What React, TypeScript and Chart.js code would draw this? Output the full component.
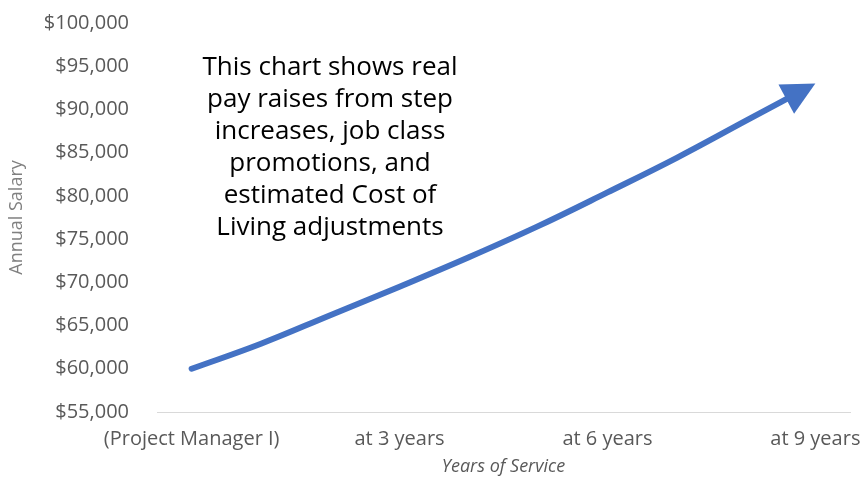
import React, { useEffect, useRef } from 'react';
import { Chart, registerables } from 'chart.js';

Chart.register(...registerables);

// Categories: one per year of service (0..9); only every third year is labelled
const categories = [
  '(Project Manager I)', '', '', 'at 3 years', '', '', 'at 6 years', '', '', 'at 9 years',
];
// Annual salary
const salary = [60000, 62900, 66200, 69500, 72900, 76500, 80400, 84400, 88700, 93000];
// Y axis tick range
const yMin = 55000;
const yMax = 100000;
const yStep = 5000;
// Annotation text
const noteLines = [
  'This chart shows real',
  'pay raises from step',
  'increases, job class',
  'promotions, and',
  'estimated Cost of',
  'Living adjustments',
];

const LINE_COLOR = '#4472C4';

function arrowGeom(chart: any) {
  const meta = chart.getDatasetMeta(0);
  const pts = meta.data;
  if (!pts || pts.length < 2) return null;
  const last = pts[pts.length - 1];
  const prev = pts[pts.length - 2];
  let cx = last.cp1x, cy = last.cp1y;
  if (cx === undefined || (Math.abs(cx - last.x) < 0.5 && Math.abs(cy - last.y) < 0.5)) {
    cx = prev.x; cy = prev.y;
  }
  let dx = last.x - cx, dy = last.y - cy;
  const len = Math.hypot(dx, dy) || 1;
  dx /= len; dy /= len;
  return { tx: last.x, ty: last.y, dx, dy };
}

const arrowPlugin = {
  id: 'arrowHead',
  beforeDatasetDraw(chart: any) {
    const g = arrowGeom(chart);
    const ctx = chart.ctx;
    ctx.save();
    if (g) {
      ctx.beginPath();
      ctx.rect(0, 0, chart.width, chart.height);
      ctx.arc(g.tx, g.ty, 11, 0, Math.PI * 2);
      ctx.clip('evenodd');
    }
  },
  afterDatasetDraw(chart: any) {
    const ctx = chart.ctx;
    ctx.restore();
    const g = arrowGeom(chart);
    if (!g) return;
    const L = 33, W = 16.5;
    const bx = g.tx - g.dx * L, by = g.ty - g.dy * L;
    const px = -g.dy, py = g.dx;
    ctx.save();
    ctx.fillStyle = LINE_COLOR;
    ctx.beginPath();
    ctx.moveTo(g.tx, g.ty);
    ctx.lineTo(bx + px * W, by + py * W);
    ctx.lineTo(bx - px * W, by - py * W);
    ctx.closePath();
    ctx.fill();
    ctx.restore();
  },
};

const notePlugin = {
  id: 'noteText',
  afterDraw(chart: any) {
    const ctx = chart.ctx;
    ctx.save();
    ctx.font = '26px "Open Sans"';
    ctx.fillStyle = '#000000';
    ctx.textAlign = 'center';
    ctx.textBaseline = 'alphabetic';
    noteLines.forEach((line, i) => ctx.fillText(line, 330, 75 + i * 32));
    ctx.restore();
  },
};

export default function App() {
  const canvasRef = useRef<HTMLCanvasElement | null>(null);

  useEffect(() => {
    if (!canvasRef.current) return;
    const chart = new Chart(canvasRef.current, {
      type: 'line',
      data: {
        labels: categories,
        datasets: [
          {
            label: 'Annual Salary',
            data: salary,
            borderColor: LINE_COLOR,
            backgroundColor: LINE_COLOR,
            borderWidth: 6,
            borderCapStyle: 'round',
            borderJoinStyle: 'round',
            pointRadius: 0,
            pointHoverRadius: 0,
            tension: 0.4,
            fill: false,
          },
        ],
      },
      options: {
        animation: false,
        responsive: true,
        maintainAspectRatio: false,
        layout: { padding: { top: 23, right: 14, bottom: 0, left: 0 } },
        plugins: {
          legend: { display: false },
          tooltip: { enabled: false },
        },
        scales: {
          x: {
            offset: true,
            grid: { display: false, drawTicks: true, tickLength: 15 },
            border: { display: true, color: '#d9d9d9', width: 1 },
            ticks: {
              autoSkip: false,
              maxRotation: 0,
              minRotation: 0,
              padding: 0,
              color: '#595959',
              font: { family: '"Open Sans"', size: 20 },
            },
            title: {
              display: true,
              text: 'Years of Service',
              color: '#595959',
              font: { family: '"Open Sans"', size: 18, style: 'italic' },
              padding: { top: 0, bottom: 1 },
            },
            afterFit: (scale: any) => {
              scale.height = 67;
            },
          },
          y: {
            min: yMin,
            max: yMax,
            grid: { display: false, drawTicks: true, tickLength: 28 },
            border: { display: false },
            ticks: {
              stepSize: yStep,
              padding: 0,
              color: '#595959',
              font: { family: '"Open Sans"', size: 20 },
              callback: (v: any) => '$' + Number(v).toLocaleString('en-US'),
            },
            title: {
              display: true,
              text: 'Annual Salary',
              color: '#808080',
              font: { family: '"Open Sans"', size: 18 },
              padding: { top: 6, bottom: 0 },
            },
            afterFit: (scale: any) => {
              scale.width = 157;
            },
          },
        },
      },
      plugins: [arrowPlugin, notePlugin],
    } as any);
    return () => chart.destroy();
  }, []);

  return (
    <div style={{ position: 'fixed', left: 0, top: 0, width: 864, height: 479, background: '#ffffff' }}>
      <canvas ref={canvasRef} />
    </div>
  );
}
